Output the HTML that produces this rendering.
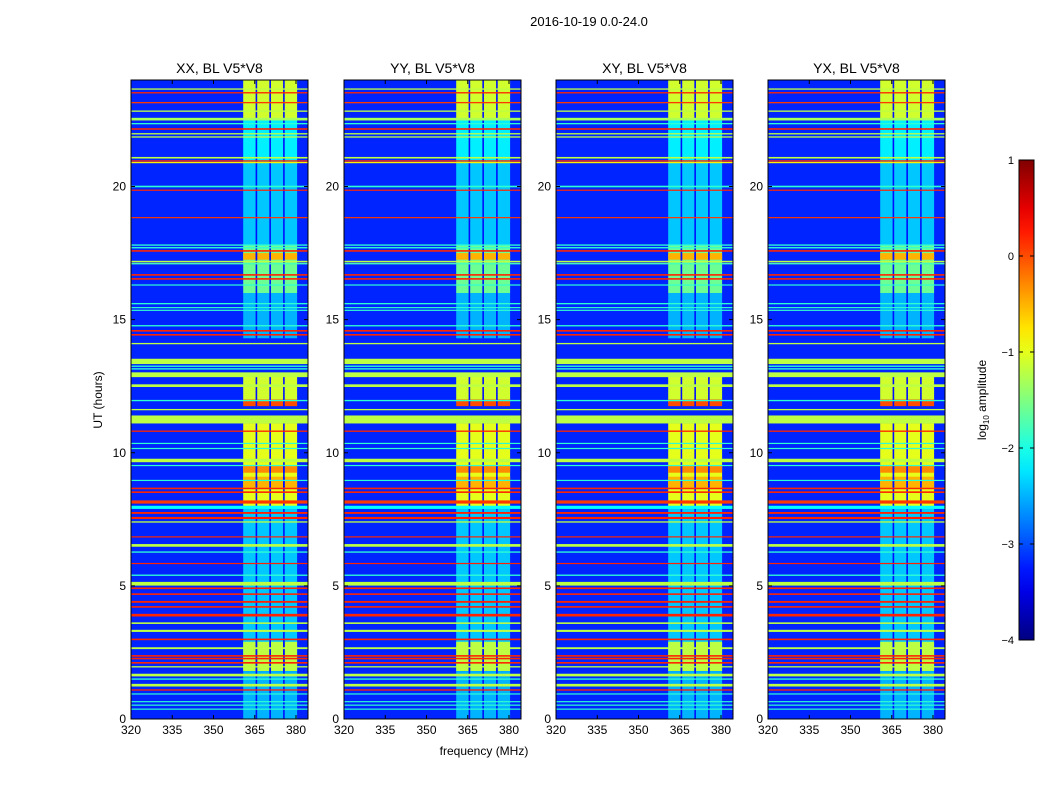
<!DOCTYPE html>
<html><head><meta charset="utf-8"><style>
body{margin:0;background:#fff;}
svg text{font-family:"Liberation Sans",sans-serif;fill:#000;}
</style></head><body>
<svg id="chart" width="1050" height="800" viewBox="0 0 1050 800" xmlns="http://www.w3.org/2000/svg">
<rect width="1050" height="800" fill="#fff"/>
<text x="589" y="26" font-size="13" text-anchor="middle">2016-10-19 0.0-24.0</text>
<text x="484" y="755" font-size="12" text-anchor="middle">frequency (MHz)</text>
<text transform="translate(102,400) rotate(-90)" font-size="12" text-anchor="middle">UT (hours)</text>
<g id="panels"></g>
<g id="cbar"></g>
</svg>
<script>
// ---- data ----
const panelTitles = ["XX, BL V5*V8","YY, BL V5*V8","XY, BL V5*V8","YX, BL V5*V8"];
const freqTicks = [320,335,350,365,380];
const timeTicks = [0,5,10,15,20];
const cbarTicks = [1,0,-1,-2,-3,-4];
const backgroundLevel = -3.2;
// broadband stripes: centre time (h), log amplitude, thickness (h)
const stripeTimes = [23.66,23.52,23.15,22.83,22.53,22.36,22.16,21.98,21.86,21.08,20.96,20.9,20.0,19.86,18.83,17.8,17.7,17.58,17.18,17.1,16.68,16.53,16.3,15.6,15.45,15.35,14.77,14.58,14.43,14.1,13.43,13.25,13.15,12.93,12.52,11.96,11.62,11.25,10.81,10.35,10.16,9.71,9.52,8.96,8.66,8.52,8.15,7.95,7.74,7.55,7.4,6.84,6.52,6.27,5.84,5.4,5.08,4.91,4.69,4.4,4.21,3.9,3.6,3.31,2.99,2.66,2.37,2.27,2.11,1.96,1.65,1.5,1.27,1.09,0.94,0.65,0.52,0.37];
const stripeValues = [-1.2,0.2,0.1,-1.2,-1.3,-1.9,0.2,-1.2,-1.2,-1.2,0.2,-0.8,-1.9,0.2,0.1,-1.9,-1.9,0.2,-1.2,-1.8,0.2,0.2,-1.9,-1.9,-1.9,-1.9,-1.9,0.2,0.2,-1.2,-1.2,-1.9,-1.9,-1.2,-1.2,-1.9,-1.2,-1.2,0.2,-1.9,-1.9,-1.2,-1.9,-1.9,0.2,0.2,0.1,-2.1,0.2,0.2,-1.2,0.2,-1.2,-1.9,0.2,-1.9,-1.2,0.2,0.2,0.2,0.2,0.2,-1.2,-1.2,0.2,-1.2,0.2,0.2,0.2,-1.2,-1.2,-1.9,-1.2,0.2,-1.9,-1.9,-1.9,-1.9];
const stripeWidths = [0.05,0.05,0.05,0.05,0.1,0.05,0.06,0.05,0.05,0.06,0.05,0.05,0.06,0.04,0.04,0.05,0.05,0.06,0.06,0.05,0.06,0.06,0.04,0.05,0.04,0.04,0.05,0.06,0.06,0.05,0.2,0.05,0.05,0.18,0.1,0.05,0.05,0.3,0.05,0.04,0.04,0.13,0.04,0.04,0.06,0.06,0.12,0.12,0.07,0.08,0.05,0.04,0.1,0.05,0.04,0.05,0.14,0.06,0.06,0.07,0.06,0.1,0.06,0.08,0.06,0.07,0.06,0.06,0.06,0.05,0.1,0.05,0.1,0.05,0.04,0.04,0.04,0.04];
// RFI band segments (361-381 MHz): start, end (h), level
const bandStart = [22.5,20.9,17.8,16.0,17.25,14.3,11.9,11.75,7.9,9.25,8.7,1.8,1.8,0.0];
const bandEnd   = [24.0,22.5,20.9,17.8,17.5,16.0,12.9,12.0,11.1,9.5,9.1,7.9,2.9,1.8];
const bandLevels= [-1.1,-2.2,-2.4,-1.6,-0.5,-2.5,-1.1,0.0,-1.0,-0.3,-0.5,-2.4,-1.2,-2.5];
// blue gaps inside the band (MHz)
const gapFreqs = [365.6,370.6,375.6];
const bandLo = 360.8, bandHi = 380.4;

// ---- helpers ----
const NS="http://www.w3.org/2000/svg";
function jet(v){let x=(v+4)/5;x=Math.max(0,Math.min(1,x));
 const c=t=>Math.round(255*Math.max(0,Math.min(1,t)));
 const r=c(Math.min(4*x-1.5,-4*x+4.5)),g=c(Math.min(4*x-0.5,-4*x+3.5)),b=c(Math.min(4*x+0.5,-4*x+2.5));
 return `rgb(${r},${g},${b})`;}
function mk(tag,attrs,parent){const e=document.createElementNS(NS,tag);for(const k in attrs)e.setAttribute(k,attrs[k]);parent.appendChild(e);return e;}
const panelX=[131,344,556,768], panelW=177, plotTop=80, plotBottom=719;
const yOf=t=>plotBottom-(t/24)*(plotBottom-plotTop);
const fmin=320, fmax=320+panelW/2.75;
const root=document.getElementById('panels');
panelTitles.forEach((title,p)=>{
 const x0=panelX[p];
 const xOf=f=>x0+(f-fmin)/(fmax-fmin)*panelW;
 const g=mk('g',{},root);
 
 
 const cp=mk('clipPath',{id:'cp'+p},g);
 mk('rect',{x:x0,y:plotTop,width:panelW,height:plotBottom-plotTop},cp);
 const h=mk('g',{'clip-path':`url(#cp${p})`},g);
 const bg=mk('rect',{x:x0,y:plotTop,width:panelW,height:plotBottom-plotTop,fill:jet(backgroundLevel)},h);
 
 
 bandStart.forEach((s,i)=>{
  const r=mk('rect',{x:xOf(bandLo),y:yOf(bandEnd[i]),width:xOf(bandHi)-xOf(bandLo),height:yOf(s)-yOf(bandEnd[i]),fill:jet(bandLevels[i])},h);
  
  
 });
 gapFreqs.forEach(f=>{
  bandStart.forEach((s,i)=>{
   const r=mk('rect',{x:xOf(f)-0.8,y:yOf(bandEnd[i]),width:1.6,height:yOf(s)-yOf(bandEnd[i]),fill:jet(-3.3)},h);
   
   
  });
 });
 stripeTimes.forEach((t,i)=>{
  const hh=Math.max(1.2,yOf(t-stripeWidths[i]/2)-yOf(t+stripeWidths[i]/2));
  const r=mk('rect',{x:x0,y:yOf(t)-hh/2,width:panelW,height:hh,fill:jet(stripeValues[i])},h);
  
  
 });
 mk('rect',{x:x0,y:plotTop,width:panelW,height:plotBottom-plotTop,fill:'none',stroke:'#000','stroke-width':1},g);
 const tt=mk('text',{x:x0+panelW/2,y:73,'font-size':14,'text-anchor':'middle'},g);tt.textContent=title;
 
 
 freqTicks.forEach(f=>{const x=xOf(f);
  mk('line',{x1:x,x2:x,y1:plotBottom,y2:plotBottom-4,stroke:'#000'},g);
  mk('line',{x1:x,x2:x,y1:plotTop,y2:plotTop+4,stroke:'#000'},g);
  const l=mk('text',{x:x,y:plotBottom+15,'font-size':12,'text-anchor':'middle'},g);l.textContent=f;
  
  });
 timeTicks.forEach(t=>{const y=yOf(t);
  mk('line',{x1:x0,x2:x0+4,y1:y,y2:y,stroke:'#000'},g);
  mk('line',{x1:x0+panelW,x2:x0+panelW-4,y1:y,y2:y,stroke:'#000'},g);
  const l=mk('text',{x:x0-5,y:y+4,'font-size':12,'text-anchor':'end'},g);l.textContent=t;
  
  });
});
// colorbar
const cb=document.getElementById('cbar');


const cbx=1019,cbw=15,cbt=160,cbb=640;
const cy=v=>cbb-(v+4)/5*(cbb-cbt);
const defs=mk('defs',{},cb);const lg=mk('linearGradient',{id:'jetg',x1:0,y1:1,x2:0,y2:0},defs);
for(let i=0;i<=20;i++){const v=-4+5*i/20;mk('stop',{offset:i/20,'stop-color':jet(v)},lg);}
mk('rect',{x:cbx,y:cbt,width:cbw,height:cbb-cbt,fill:'url(#jetg)',stroke:'#000'},cb);
cbarTicks.forEach(v=>{const y=cy(v);
 mk('line',{x1:cbx,x2:cbx+4,y1:y,y2:y,stroke:'#000'},cb);
 mk('line',{x1:cbx+cbw,x2:cbx+cbw-4,y1:y,y2:y,stroke:'#000'},cb);
 const l=mk('text',{x:1014,y:y+4,'font-size':11,'text-anchor':'end'},cb);l.textContent=(v<0?'\u2212':'')+Math.abs(v);
 
 });
const cl=mk('text',{transform:'translate(986,400) rotate(-90)','font-size':12,'text-anchor':'middle'},cb);
cl.innerHTML='log<tspan font-size="8" dy="3">10</tspan><tspan dy="-3"> amplitude</tspan>';


</script>
</body></html>
